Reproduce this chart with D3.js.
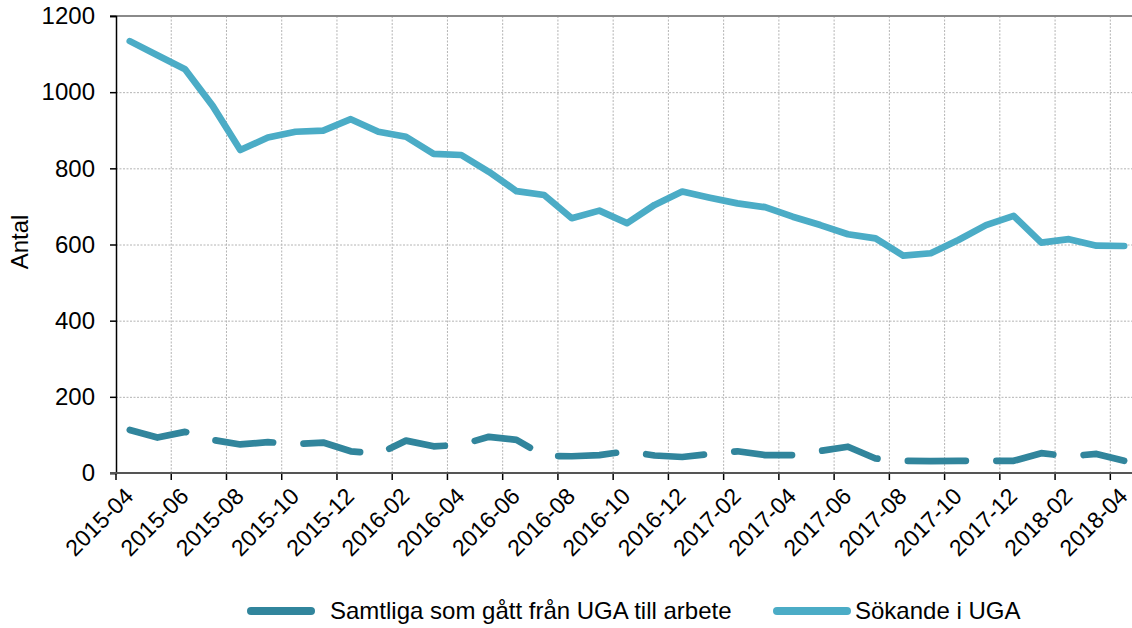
<!DOCTYPE html>
<html>
<head>
<meta charset="utf-8">
<script src="https://cdn.jsdelivr.net/npm/d3@7"></script>
<style>
  body { margin: 0; background: #fff; }
  text { font-family: "Liberation Sans", Arial, sans-serif; fill: #000; }
</style>
</head>
<body>
<div id="chart"></div>
<script>
// months on the x axis (one category per month)
const months = [
  "2015-04", "2015-05", "2015-06", "2015-07", "2015-08", "2015-09", "2015-10", "2015-11", "2015-12",
  "2016-01", "2016-02", "2016-03", "2016-04", "2016-05", "2016-06", "2016-07", "2016-08", "2016-09",
  "2016-10", "2016-11", "2016-12", "2017-01", "2017-02", "2017-03", "2017-04", "2017-05", "2017-06",
  "2017-07", "2017-08", "2017-09", "2017-10", "2017-11", "2017-12", "2018-01", "2018-02", "2018-03",
  "2018-04"
];

// Sökande i UGA
const sokande = [
  1134, 1097, 1060, 964, 848, 881, 896, 899, 929,
  896, 883, 838, 835, 791, 740, 730, 669, 689,
  656, 704, 739, 723, 708, 698, 673, 651, 627,
  616, 571, 577, 612, 651, 675, 605, 614, 597,
  596
];

// Samtliga som gått från UGA till arbete
const tillArbete = [
  113, 93, 108, 87, 75, 81, 76, 80, 57,
  50, 85, 70, 74, 95, 87, 45, 44, 47,
  57, 46, 42, 50, 57, 47, 47, 58, 69,
  38, 32, 31, 32, 32, 32, 52, 44, 50,
  32
];

const yTicks = [0, 200, 400, 600, 800, 1000, 1200];

const seriesNames = ["Samtliga som gått från UGA till arbete", "Sökande i UGA"];
const seriesColors = ["#31859c", "#4bacc6"];

const width = 1132, height = 628;
const plotLeft = 116, plotTop = 16, plotBottom = 473;
const step = 27.62;

const svg = d3.select("#chart").append("svg")
  .attr("width", width)
  .attr("height", height);

const x = d3.scaleBand()
  .domain(months)
  .range([plotLeft, plotLeft + months.length * step])
  .padding(0);

const y = d3.scaleLinear()
  .domain([0, 1200])
  .range([plotBottom, plotTop]);

const cx = m => x(m) + x.bandwidth() / 2;
const labelled = months.filter((m, i) => i % 2 === 0);

// grid
svg.append("g")
  .selectAll("line")
  .data(yTicks.filter(t => t > 0 && t < 1200))
  .join("line")
  .attr("x1", plotLeft).attr("x2", width)
  .attr("y1", d => y(d) + 0.5).attr("y2", d => y(d) + 0.5)
  .attr("stroke", "#b4b4b4")
  .attr("stroke-width", 1)
  .attr("stroke-dasharray", "2,1.5");

svg.append("g")
  .selectAll("line")
  .data(labelled.slice(1))
  .join("line")
  .attr("x1", d => x(d)).attr("x2", d => x(d))
  .attr("y1", plotTop).attr("y2", plotBottom)
  .attr("stroke", "#b4b4b4")
  .attr("stroke-width", 1)
  .attr("stroke-dasharray", "2,1.5");

// top border
svg.append("line")
  .attr("x1", plotLeft - 6).attr("x2", width)
  .attr("y1", plotTop).attr("y2", plotTop)
  .attr("stroke", "#8a8a8a")
  .attr("stroke-width", 2);

// y axis
const yAxis = svg.append("g")
  .attr("transform", `translate(${plotLeft},0)`)
  .call(d3.axisLeft(y).tickValues(yTicks).tickSize(6).tickPadding(15).tickFormat(d3.format("d")));
yAxis.select(".domain").attr("stroke", "#000").attr("stroke-width", 1.5);
yAxis.selectAll(".tick line").attr("stroke", "#000").attr("stroke-width", 1.5);
yAxis.selectAll(".tick text")
  .style("font-family", "'Liberation Sans', Arial, sans-serif")
  .style("font-size", "24px")
  .attr("fill", "#000");

// x axis
const xAxis = svg.append("g")
  .attr("transform", `translate(0,${plotBottom})`)
  .call(d3.axisBottom(x).tickValues(labelled).tickSize(7).tickFormat(""));
xAxis.select(".domain").remove();
xAxis.selectAll(".tick").attr("transform", d => `translate(${x(d)},0)`);
xAxis.selectAll(".tick line").attr("stroke", "#000").attr("stroke-width", 1.5);
svg.append("line")
  .attr("x1", plotLeft - 6).attr("x2", width)
  .attr("y1", plotBottom).attr("y2", plotBottom)
  .attr("stroke", "#555")
  .attr("stroke-width", 2);

svg.append("g")
  .selectAll("text")
  .data(labelled)
  .join("text")
  .attr("transform", d => `translate(${x(d) + 7},${plotBottom + 13}) rotate(-45)`)
  .attr("text-anchor", "end")
  .attr("dy", "0.72em")
  .style("font-size", "23px")
  .text(d => d);

// y axis title
svg.append("text")
  .attr("transform", `translate(28,242) rotate(-90)`)
  .attr("text-anchor", "middle")
  .style("font-size", "24px")
  .text("Antal");

// lines
const line = values => d3.line()
  .x((d, i) => cx(months[i]))
  .y(d => y(d))(values);

svg.append("path")
  .attr("d", line(sokande))
  .attr("fill", "none")
  .attr("stroke", seriesColors[1])
  .attr("stroke-width", 6.7)
  .attr("stroke-linejoin", "round")
  .attr("stroke-linecap", "round");

svg.append("path")
  .attr("d", line(tillArbete))
  .attr("fill", "none")
  .attr("stroke", seriesColors[0])
  .attr("stroke-width", 6.7)
  .attr("stroke-linejoin", "round")
  .attr("stroke-linecap", "round")
  .attr("stroke-dasharray", "58,30.5");

// legend
const legendItems = [
  { x1: 251, x2: 311, tx: 330 },
  { x1: 777, x2: 847, tx: 855 }
];
const legend = svg.append("g")
  .selectAll("g")
  .data(seriesNames)
  .join("g");

legend.append("line")
  .attr("x1", (d, i) => legendItems[i].x1)
  .attr("x2", (d, i) => legendItems[i].x2)
  .attr("y1", 611).attr("y2", 611)
  .attr("stroke", (d, i) => seriesColors[i])
  .attr("stroke-width", 8)
  .attr("stroke-linecap", "round");

legend.append("text")
  .attr("x", (d, i) => legendItems[i].tx)
  .attr("y", 611)
  .attr("dy", "0.35em")
  .style("font-size", "24px")
  .text(d => d);
</script>
</body>
</html>
